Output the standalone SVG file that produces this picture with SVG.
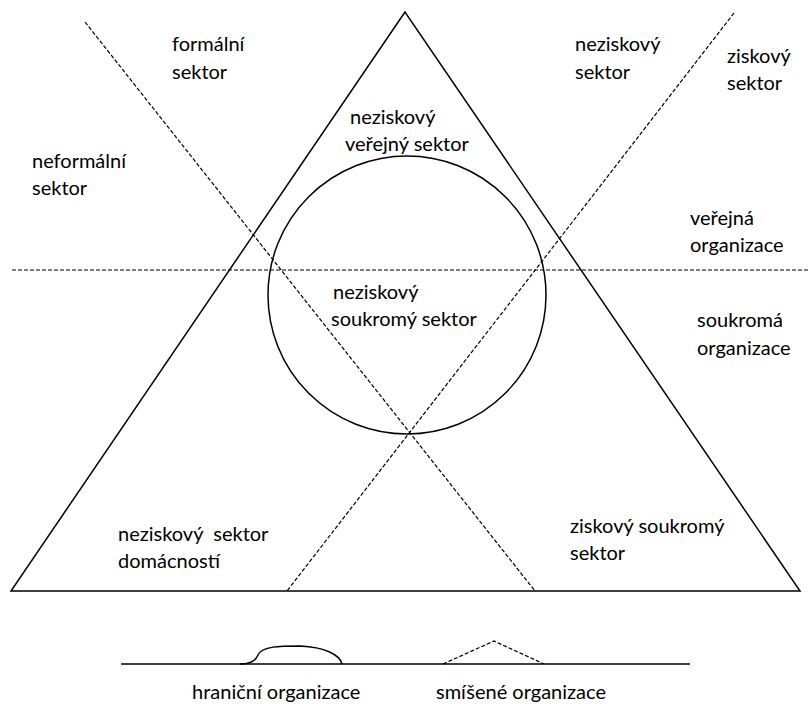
<svg xmlns="http://www.w3.org/2000/svg" width="810" height="704" viewBox="0 0 810 704">
<style>
.t{font-family:Lato,"Open Sans","Liberation Sans",sans-serif;font-size:20px;fill:#000}
.s{fill:none;stroke:#000;stroke-width:1.5}
.d{fill:none;stroke:#000;stroke-width:1.2;stroke-dasharray:4 2}
</style>
<rect width="810" height="704" fill="#fff"/>
<g id="connectors">
<line class="d" x1="12" y1="270" x2="810" y2="270"/>
<line class="d" x1="85" y1="22" x2="535" y2="591"/>
<line class="d" x1="734" y1="13" x2="287" y2="591"/>
</g>
<g id="triangle"><polygon class="s" points="405,12 11,591 800,591"/></g>
<g id="circle"><circle class="s" cx="407" cy="295" r="139"/></g>
<g id="legend">
<line class="s" x1="121" y1="664" x2="690" y2="664"/>
<path class="s" d="M240,664 C250,664 256,660 258,655 C262,646 280,646 300,646 C325,647 340,655 342,664"/>
<polyline class="d" points="443,664 494,641 544,664"/>
</g>
<g id="labels">
<text class="t" x="172" y="51">formální</text>
<text class="t" x="172" y="79">sektor</text>
<text class="t" x="575" y="51">neziskový</text>
<text class="t" x="575" y="79">sektor</text>
<text class="t" x="727" y="63">ziskový</text>
<text class="t" x="727" y="90">sektor</text>
<text class="t" x="350" y="124">neziskový</text>
<text class="t" x="345" y="151">veřejný sektor</text>
<text class="t" x="333" y="299">neziskový</text>
<text class="t" x="331" y="326">soukromý sektor</text>
<text class="t" x="32" y="168">neformální</text>
<text class="t" x="32" y="195">sektor</text>
<text class="t" x="690" y="225">veřejná</text>
<text class="t" x="690" y="252">organizace</text>
<text class="t" x="697" y="327">soukromá</text>
<text class="t" x="697" y="355">organizace</text>
<text class="t" x="118" y="541" xml:space="preserve">neziskový  sektor</text>
<text class="t" x="118" y="568">domácností</text>
<text class="t" x="570" y="533">ziskový soukromý</text>
<text class="t" x="570" y="560">sektor</text>
<text class="t" x="192" y="699">hraniční organizace</text>
<text class="t" x="436" y="699">smíšené organizace</text>
</g>
</svg>
